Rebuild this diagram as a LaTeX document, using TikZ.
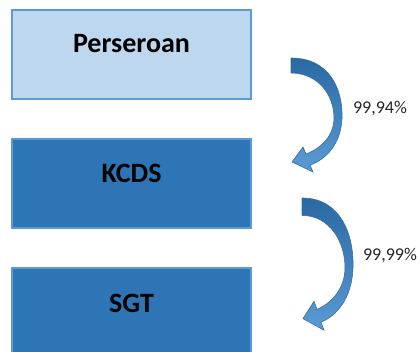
\documentclass[tikz,border=0pt]{standalone}
\usepackage{fontspec}
\setmainfont{Carlito}
\usetikzlibrary{positioning}
\definecolor{paleblue}{HTML}{BDD7EE}
\definecolor{midblue}{HTML}{2E75B6}
\definecolor{edgeblue}{HTML}{5B9BD5}
\definecolor{darkblue}{HTML}{3A6F9F}
\tikzset{
    entity/.style={rectangle, draw=edgeblue, line width=2pt, minimum width=239pt, minimum height=89pt, inner sep=0pt},
    entitytext/.style={font=\fontsize{28}{30}\selectfont\bfseries, text=black},
    share/.style={font=\fontsize{18}{20}\selectfont, text=black!85},
    bendarrow/.pic={
        \draw[darkblue, line width=0.6pt, top color=midblue!90!black, bottom color=edgeblue]
            (0,0) .. controls (39,0) and (52,32) .. (51,60)
            .. controls (50,87) and (34,102) .. (19,107)
            -- (22,114) -- (1,104) -- (12,89) -- (15,96)
            .. controls (31,90) and (43,77) .. (43,60)
            .. controls (43,37) and (27,15) .. (0,15) -- cycle;
    }
}
\begin{document}
\begin{tikzpicture}[x=1pt, y=-1pt, node distance=38pt]
    \useasboundingbox (0,0) rectangle (420,351);
    \clip (0,0) rectangle (420,351);
    \node[entity, fill=paleblue, label={[entitytext, yshift=10pt]center:Perseroan}] (perseroan) at (131.5,54) {};
    \node[entity, fill=midblue, label={[entitytext, yshift=10pt]center:KCDS}] (kcds) [below=of perseroan] {};
    \node[entity, fill=midblue, label={[entitytext, yshift=9pt]center:SGT}] (sgt) [below=of kcds] {};
    \pic at (291,58) {bendarrow};
    \pic[yscale=1.16] at (302,198) {bendarrow};
    \node[share] (share1) at (380,109) {99,94\%};
    \node[share] (share2) at (390,256) {99,99\%};
\end{tikzpicture}
\end{document}
